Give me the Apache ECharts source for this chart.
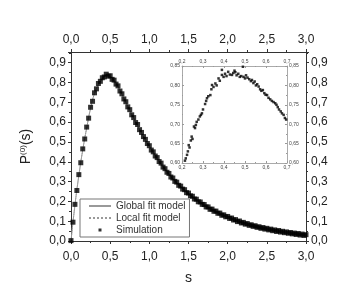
<!DOCTYPE html>
<html><head><meta charset="utf-8">
<script src="https://cdn.jsdelivr.net/npm/echarts@6/dist/echarts.min.js"></script>
<style>html,body{margin:0;padding:0;background:#fff}#c{width:358px;height:301px}</style>
</head><body><div id="c"></div>
<script>
// ---- data ----
const xTicks = [0.0, 0.5, 1.0, 1.5, 2.0, 2.5, 3.0];
const yTicks = [0.0, 0.1, 0.2, 0.3, 0.4, 0.5, 0.6, 0.7, 0.8, 0.9];
const simS = [0.000,0.025,0.050,0.075,0.100,0.125,0.150,0.175,0.200,0.225,0.250,0.275,0.300,0.325,0.350,0.375,0.400,0.425,0.450,0.475,
  0.500,0.525,0.550,0.575,0.600,0.625,0.650,0.675,0.700,0.725,0.750,0.775,0.800,0.825,0.850,0.875,0.900,0.925,0.950,0.975,
  1.000,1.025,1.050,1.075,1.100,1.125,1.150,1.175,1.200,1.225,1.250,1.275,1.300,1.325,1.350,1.375,1.400,1.425,1.450,1.475,
  1.500,1.525,1.550,1.575,1.600,1.625,1.650,1.675,1.700,1.725,1.750,1.775,1.800,1.825,1.850,1.875,1.900,1.925,1.950,1.975,
  2.000,2.025,2.050,2.075,2.100,2.125,2.150,2.175,2.200,2.225,2.250,2.275,2.300,2.325,2.350,2.375,2.400,2.425,2.450,2.475,
  2.500,2.525,2.550,2.575,2.600,2.625,2.650,2.675,2.700,2.725,2.750,2.775,2.800,2.825,2.850,2.875,2.900,2.925,2.950,2.975,3.000];
const simP = [0.002,0.095,0.185,0.255,0.335,0.395,0.465,0.515,0.575,0.620,0.675,0.705,0.748,0.768,0.795,0.806,0.824,0.828,0.842,0.832,
  0.834,0.816,0.812,0.792,0.783,0.757,0.743,0.717,0.703,0.677,0.663,0.637,0.623,0.598,0.588,0.562,0.548,0.527,0.513,0.492,
  0.481,0.459,0.450,0.429,0.421,0.401,0.393,0.373,0.365,0.347,0.341,0.323,0.318,0.301,0.297,0.281,0.277,0.262,0.259,0.244,
  0.242,0.228,0.226,0.212,0.211,0.198,0.197,0.185,0.184,0.172,0.172,0.160,0.161,0.150,0.151,0.140,0.141,0.130,0.132,0.122,
  0.124,0.114,0.116,0.106,0.108,0.098,0.101,0.091,0.094,0.085,0.088,0.079,0.082,0.074,0.077,0.069,0.072,0.064,0.068,0.060,
  0.064,0.056,0.060,0.052,0.056,0.048,0.053,0.045,0.049,0.042,0.046,0.039,0.043,0.036,0.040,0.033,0.038,0.030,0.035,0.028,0.032];
const fitS = [0,0.05,0.1,0.15,0.2,0.25,0.3,0.35,0.4,0.45,0.5,0.55,0.6,0.7,0.8,0.9,1.0,1.2,1.4,1.6,1.8,2.0,2.2,2.4,2.6,2.8,3.0];
const globalFitP = [0,0.18,0.33,0.46,0.57,0.67,0.745,0.79,0.82,0.836,0.83,0.81,0.78,0.70,0.62,0.545,0.478,0.362,0.274,0.208,0.158,0.121,0.091,0.069,0.053,0.040,0.030];
const localFitP  = [0,0.18,0.33,0.46,0.57,0.67,0.744,0.79,0.821,0.835,0.831,0.81,0.779,0.70,0.621,0.546,0.479,0.362,0.275,0.208,0.158,0.121,0.092,0.069,0.053,0.040,0.031];
// inset (zoom on the peak)
const insetS = [0.214,0.218,0.224,0.228,0.232,0.236,0.242,0.246,0.250,0.257,0.262,0.266,0.270,0.278,0.285,0.290,0.295,0.300,0.310,0.315,
  0.319,0.325,0.335,0.340,0.343,0.350,0.359,0.365,0.374,0.380,0.390,0.390,0.398,0.405,0.412,0.420,0.428,0.438,0.444,0.450,
  0.454,0.460,0.468,0.475,0.482,0.490,0.493,0.500,0.505,0.512,0.520,0.528,0.533,0.540,0.546,0.552,0.558,0.565,0.572,0.578,
  0.585,0.592,0.598,0.605,0.612,0.620,0.628,0.636,0.644,0.650,0.656,0.662,0.670,0.676,0.684,0.690,0.696];
const insetP = [0.606,0.612,0.621,0.630,0.646,0.640,0.658,0.668,0.662,0.694,0.690,0.698,0.706,0.712,0.720,0.724,0.728,0.738,0.752,0.760,
  0.767,0.772,0.775,0.790,0.801,0.796,0.805,0.800,0.818,0.812,0.827,0.840,0.822,0.830,0.824,0.835,0.828,0.827,0.832,0.838,
  0.834,0.826,0.830,0.822,0.824,0.848,0.822,0.818,0.826,0.820,0.816,0.811,0.814,0.806,0.810,0.800,0.803,0.797,0.790,0.786,
  0.788,0.780,0.776,0.775,0.768,0.764,0.760,0.757,0.754,0.750,0.744,0.738,0.733,0.728,0.724,0.716,0.712];

const pair = (a, b) => a.map((v, i) => [v, b[i]]);
const FONT = "'Liberation Sans', Arial, sans-serif";
const fmt1 = v => (Math.abs(v*10 - Math.round(v*10)) < 1e-6) ? v.toFixed(1).replace('.', ',') : '';
const fmt2 = v => v.toFixed(2).replace('.', ',');
const fmtI = v => v.toFixed(1).replace('.', ',');

function mainAxis(pos, extra) {
  return Object.assign({
    type: 'value', gridIndex: 0, position: pos,
    axisLine: {show: true, onZero: false, lineStyle: {color: '#333', width: 1}},
    axisTick: {show: true, inside: false, length: 3, lineStyle: {color: '#333'}},
    minorTick: {show: true, splitNumber: 2, length: 2, lineStyle: {color: '#333'}},
    splitLine: {show: false},
    axisLabel: {color: '#222', fontSize: 12, fontFamily: FONT, formatter: fmt1}
  }, extra);
}
function insetAxis(pos, extra, formatter) {
  return Object.assign({
    type: 'value', gridIndex: 1, position: pos,
    axisLine: {show: true, onZero: false, lineStyle: {color: '#aaa', width: 1}},
    axisTick: {show: true, inside: true, length: 2, lineStyle: {color: '#999'}},
    minorTick: {show: true, splitNumber: 2, length: 1, lineStyle: {color: '#999'}},
    splitLine: {show: false},
    axisLabel: {color: '#444', fontSize: 5, fontFamily: FONT, margin: 2, formatter: formatter}
  }, extra);
}

const chart = echarts.init(document.getElementById('c'), null, {renderer: 'canvas'});
chart.setOption({
  animation: false,
  backgroundColor: '#fff',
  grid: [
    {left: 71, top: 52, width: 235, height: 189},
    {left: 182, top: 66, width: 105, height: 97, backgroundColor: '#fff', show: true, borderWidth: 0}
  ],
  xAxis: [
    mainAxis('bottom', {min: 0, max: 3, interval: 0.5, name: 's', nameLocation: 'middle', nameGap: 30,
      nameTextStyle: {fontSize: 14, color: '#222', fontFamily: FONT}, axisLabel: {color: '#222', fontSize: 12, fontFamily: FONT, formatter: fmt1, margin: 10}}),
    mainAxis('top', {min: 0, max: 3, interval: 0.5, axisLabel: {color: '#222', fontSize: 12, fontFamily: FONT, formatter: fmt1, margin: 6}}),
    insetAxis('bottom', {min: 0.2, max: 0.7, interval: 0.1}, fmtI),
    insetAxis('top', {min: 0.2, max: 0.7, interval: 0.1}, fmtI)
  ],
  yAxis: [
    mainAxis('left', {min: 0, max: 0.954, interval: 0.1, name: '{a|P}{s|(0)}{a|(s)}', nameLocation: 'middle', nameGap: 38, nameRotate: 90,
      nameTextStyle: {color: '#222', fontFamily: FONT, rich: {a: {fontSize: 14, color: '#222', fontFamily: FONT}, s: {fontSize: 8, color: '#222', fontFamily: FONT, verticalAlign: 'top'}}},
      axisLabel: {color: '#222', fontSize: 12, fontFamily: FONT, formatter: fmt1, margin: 5, showMaxLabel: false}}),
    mainAxis('right', {min: 0, max: 0.954, interval: 0.1, axisLabel: {color: '#222', fontSize: 12, fontFamily: FONT, formatter: fmt1, margin: 5, showMaxLabel: false}}),
    insetAxis('left', {min: 0.6, max: 0.85, interval: 0.05}, fmt2),
    insetAxis('right', {min: 0.6, max: 0.85, interval: 0.05}, fmt2)
  ],
  legend: {
    left: 80, top: 199, orient: 'vertical',
    backgroundColor: '#fff', borderColor: '#777', borderWidth: 1,
    padding: [2, 4, 2, 8], itemGap: 2, itemWidth: 22, itemHeight: 10,
    textStyle: {fontSize: 10, color: '#333', fontFamily: FONT},
    data: [
      {name: 'Global fit model', itemStyle: {color: 'rgba(0,0,0,0)', borderWidth: 0}},
      {name: 'Local fit model', itemStyle: {color: 'rgba(0,0,0,0)', borderWidth: 0}},
      {name: 'Simulation', icon: 'path://M0 0L0.01 0M10 10L9.99 10M3.5 3.5h3v3h-3z'}
    ]
  },
  series: [
    {name: 'Global fit model', type: 'line', xAxisIndex: 0, yAxisIndex: 0, data: pair(fitS, globalFitP),
      smooth: true, symbol: 'none', lineStyle: {color: '#999', width: 1, type: 'solid'}, itemStyle: {color: '#999'}, z: 2},
    {name: 'Local fit model', type: 'line', xAxisIndex: 0, yAxisIndex: 0, data: pair(fitS, localFitP),
      smooth: true, symbol: 'none', lineStyle: {color: '#999', width: 1, type: 'dotted'}, itemStyle: {color: '#999'}, z: 2},
    {name: 'Simulation', type: 'scatter', xAxisIndex: 0, yAxisIndex: 0, data: pair(simS, simP),
      symbol: 'rect', symbolSize: 5, itemStyle: {color: '#000'}, z: 3},
    {name: 'Simulation', type: 'scatter', xAxisIndex: 2, yAxisIndex: 2, data: pair(insetS, insetP),
      symbol: 'rect', symbolSize: 2.5, itemStyle: {color: '#000'}, z: 5}
  ]
});
</script>
</body></html>
